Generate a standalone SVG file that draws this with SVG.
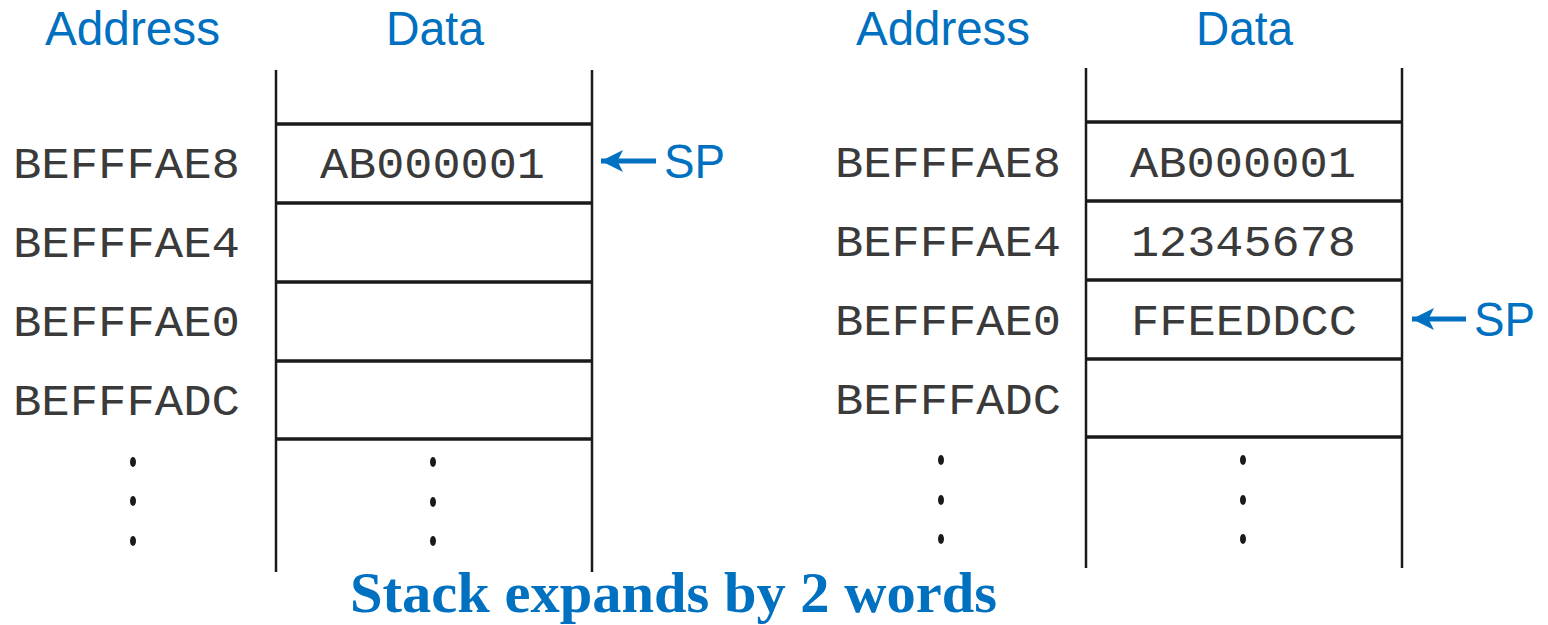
<svg xmlns="http://www.w3.org/2000/svg" width="1548" height="625" viewBox="0 0 1548 625">
<style>
.hdr{font-family:"Liberation Sans",Arial,sans-serif;font-size:48px;fill:#0070C0;text-anchor:start}
.mono{font-family:"Liberation Mono","Courier New",monospace;font-size:45px;fill:#3a3a3a;font-weight:normal}
.sp{font-family:"Liberation Sans",Arial,sans-serif;font-size:48px;fill:#0070C0}
.v{stroke:#1a1a1a;stroke-width:2.5;fill:none}
.h{stroke:#1a1a1a;stroke-width:3.5;fill:none}
.arr{stroke:#0070C0;stroke-width:5;fill:none}
.dot{fill:#1a1a1a}
.title{font-family:"Liberation Serif","Times New Roman",serif;font-weight:bold;font-size:57px;fill:#0070C0}
</style>
<defs>
<marker id="ah" viewBox="0 0 10 10" refX="10" refY="5" markerWidth="4.4" markerHeight="4.4" orient="auto-start-reverse" markerUnits="strokeWidth">
<path d="M0,0 L10,5 L0,10 L2.5,5 z" fill="#0070C0"/>
</marker>
</defs>
<rect width="1548" height="625" fill="#fff"/>

<g id="left-stack">
<text class="hdr" x="45" y="45" textLength="175" lengthAdjust="spacingAndGlyphs">Address</text>
<text class="hdr" x="386" y="45" textLength="98" lengthAdjust="spacingAndGlyphs">Data</text>
<line class="v" x1="276" y1="70" x2="276" y2="572"/>
<line class="v" x1="592" y1="70" x2="592" y2="572"/>
<line class="h" x1="276" y1="124" x2="592" y2="124"/>
<line class="h" x1="276" y1="203" x2="592" y2="203"/>
<line class="h" x1="276" y1="282" x2="592" y2="282"/>
<line class="h" x1="276" y1="361" x2="592" y2="361"/>
<line class="h" x1="276" y1="439" x2="592" y2="439"/>
<text class="mono" x="13" y="178" textLength="227" lengthAdjust="spacingAndGlyphs">BEFFFAE8</text>
<text class="mono" x="13" y="257" textLength="227" lengthAdjust="spacingAndGlyphs">BEFFFAE4</text>
<text class="mono" x="13" y="336" textLength="227" lengthAdjust="spacingAndGlyphs">BEFFFAE0</text>
<text class="mono" x="13" y="415" textLength="227" lengthAdjust="spacingAndGlyphs">BEFFFADC</text>
<text class="mono" x="320" y="178" textLength="225" lengthAdjust="spacingAndGlyphs">AB000001</text>
<ellipse class="dot" cx="133" cy="462" rx="3" ry="5"/>
<ellipse class="dot" cx="133" cy="501" rx="3" ry="5"/>
<ellipse class="dot" cx="133" cy="541" rx="3" ry="5"/>
<ellipse class="dot" cx="433" cy="462" rx="3" ry="5"/>
<ellipse class="dot" cx="433" cy="502" rx="3" ry="5"/>
<ellipse class="dot" cx="433" cy="541" rx="3" ry="5"/>
</g>

<g id="right-stack">
<text class="hdr" x="856" y="45" textLength="174" lengthAdjust="spacingAndGlyphs">Address</text>
<text class="hdr" x="1196" y="45" textLength="97" lengthAdjust="spacingAndGlyphs">Data</text>
<line class="v" x1="1086" y1="68" x2="1086" y2="568"/>
<line class="v" x1="1402" y1="68" x2="1402" y2="568"/>
<line class="h" x1="1086" y1="122" x2="1402" y2="122"/>
<line class="h" x1="1086" y1="201" x2="1402" y2="201"/>
<line class="h" x1="1086" y1="280" x2="1402" y2="280"/>
<line class="h" x1="1086" y1="359" x2="1402" y2="359"/>
<line class="h" x1="1086" y1="437" x2="1402" y2="437"/>
<text class="mono" x="835" y="177" textLength="226" lengthAdjust="spacingAndGlyphs">BEFFFAE8</text>
<text class="mono" x="835" y="256" textLength="226" lengthAdjust="spacingAndGlyphs">BEFFFAE4</text>
<text class="mono" x="835" y="335" textLength="226" lengthAdjust="spacingAndGlyphs">BEFFFAE0</text>
<text class="mono" x="835" y="414" textLength="226" lengthAdjust="spacingAndGlyphs">BEFFFADC</text>
<text class="mono" x="1130" y="177" textLength="226" lengthAdjust="spacingAndGlyphs">AB000001</text>
<text class="mono" x="1131" y="256" textLength="225" lengthAdjust="spacingAndGlyphs">12345678</text>
<text class="mono" x="1131" y="335" textLength="226" lengthAdjust="spacingAndGlyphs">FFEEDDCC</text>
<ellipse class="dot" cx="941" cy="460" rx="3" ry="5"/>
<ellipse class="dot" cx="941" cy="500" rx="3" ry="5"/>
<ellipse class="dot" cx="941" cy="539" rx="3" ry="5"/>
<ellipse class="dot" cx="1243" cy="460" rx="3" ry="5"/>
<ellipse class="dot" cx="1243" cy="500" rx="3" ry="5"/>
<ellipse class="dot" cx="1243" cy="539" rx="3" ry="5"/>
</g>

<g id="connectors">
<line class="arr" x1="656" y1="161" x2="601" y2="161" marker-end="url(#ah)"/>
<line class="arr" x1="1466" y1="319" x2="1412" y2="319" marker-end="url(#ah)"/>
</g>

<g id="sp-left"><text class="sp" x="664" y="178" textLength="61" lengthAdjust="spacingAndGlyphs">SP</text></g>
<g id="sp-right"><text class="sp" x="1474" y="336" textLength="61" lengthAdjust="spacingAndGlyphs">SP</text></g>

<g id="caption">
<text class="title" x="350" y="612" textLength="647" lengthAdjust="spacingAndGlyphs">Stack expands by 2 words</text>
</g>
</svg>
